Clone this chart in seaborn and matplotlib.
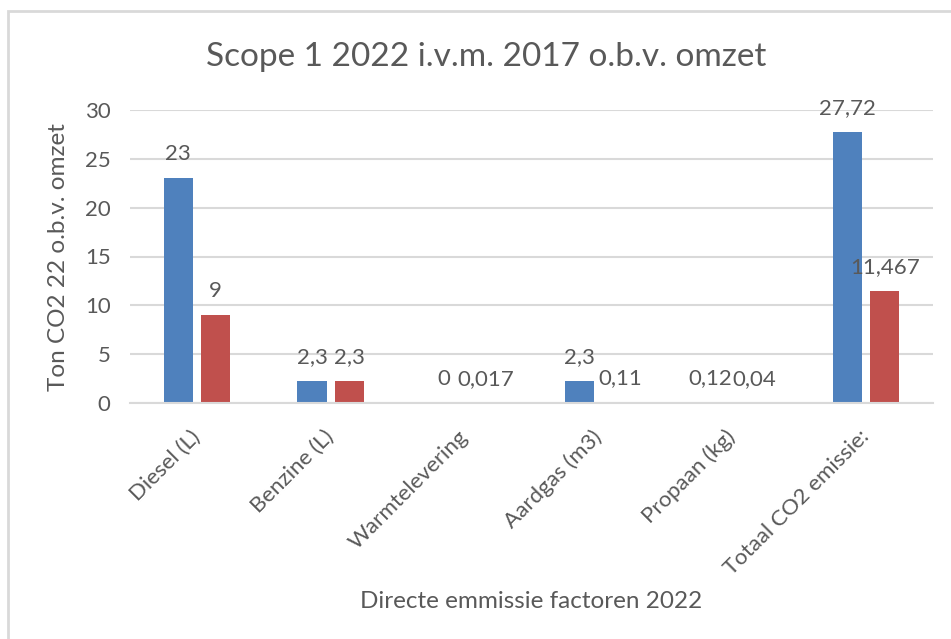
import matplotlib
matplotlib.use("Agg")
import matplotlib.pyplot as plt
import seaborn as sns
import pandas as pd
from matplotlib.patches import Rectangle

categories = ["Diesel (L)", "Benzine (L)", "Warmtelevering", "Aardgas (m3)", "Propaan (kg)", "Totaal CO2 emissie:"]
series_names = ["2022", "2017"]
values_2022 = [23, 2.3, 0, 2.3, 0.12, 27.72]
values_2017 = [9, 2.3, 0.017, 0.11, 0.04, 11.467]
yticks = [0, 5, 10, 15, 20, 25, 30]

title = "Scope 1 2022 i.v.m. 2017 o.b.v. omzet"
ylabel = "Ton CO2 22 o.b.v. omzet"
xlabel = "Directe emmissie factoren 2022"

df = pd.DataFrame({
    "cat": categories * 2,
    "serie": [series_names[0]] * len(categories) + [series_names[1]] * len(categories),
    "val": values_2022 + values_2017,
})

sns.set_theme(style="white")
plt.rcParams["font.family"] = ["Lato", "DejaVu Sans"]
TXT = "#595959"

fig = plt.figure(figsize=(9.51, 6.39), dpi=100)
ax = fig.add_axes([130/951, 1-403/639, (933-130)/951, (403-110)/639])

sns.barplot(data=df, x="cat", y="val", hue="serie", order=categories,
            hue_order=series_names, palette=["#4F81BD", "#C0504D"], saturation=1,
            width=0.56, gap=0.225, ax=ax, legend=False, edgecolor="none")

ax.set_ylim(0, 30)
ax.set_xlim(-0.5, len(categories) - 0.5)
ax.set_yticks(yticks)
ax.set_yticklabels([str(t) for t in yticks], fontsize=16, color=TXT)
ax.yaxis.grid(True, color="#D9D9D9", linewidth=1.5)
ax.set_axisbelow(True)
for s in ["top", "right", "left"]:
    ax.spines[s].set_visible(False)
ax.spines["bottom"].set_color("#D9D9D9")
ax.spines["bottom"].set_linewidth(1.5)
ax.tick_params(axis="both", length=0)
ax.tick_params(axis="y", pad=14)
ax.set_xticks(range(len(categories)))
ax.set_xticklabels(categories, rotation=45, ha="right", va="center", rotation_mode="anchor",
                   fontsize=16, color=TXT)
ax.tick_params(axis="x", pad=22)
ax.set_xlabel("")
ax.set_ylabel("")

def fmt(v):
    return ("%g" % v).replace(".", ",")

nudges = [-2.5, 2.5]
for i, cont in enumerate(ax.containers):
    vals = cont.datavalues
    texts = ax.bar_label(cont, labels=[fmt(v) for v in vals], padding=10, fontsize=16, color=TXT)
    # small values sit side by side; nudge apart slightly so they just touch
    for j, t in enumerate(texts):
        if vals[j] < 1 and j != 2:
            t.xyann = (nudges[i], 10)
        if j == 2:
            t.xyann = (nudges[i] * 0.6, 10)

fig.text(486/951, 1-57/639, title, ha="center", va="center", fontsize=24, color=TXT)
fig.text(59/951, 1-257/639, ylabel, ha="center", va="center", rotation=90, fontsize=17.5, color=TXT)
fig.text(531/951, 1-602/639, xlabel, ha="center", va="center", fontsize=17.5, color=TXT)

fig.patches.append(Rectangle((8/951, -0.05), 1.1, 1.05 - 11/639, transform=fig.transFigure,
                             fill=False, edgecolor="#D9D9D9", linewidth=2))

fig.savefig("out.png", dpi=100)
